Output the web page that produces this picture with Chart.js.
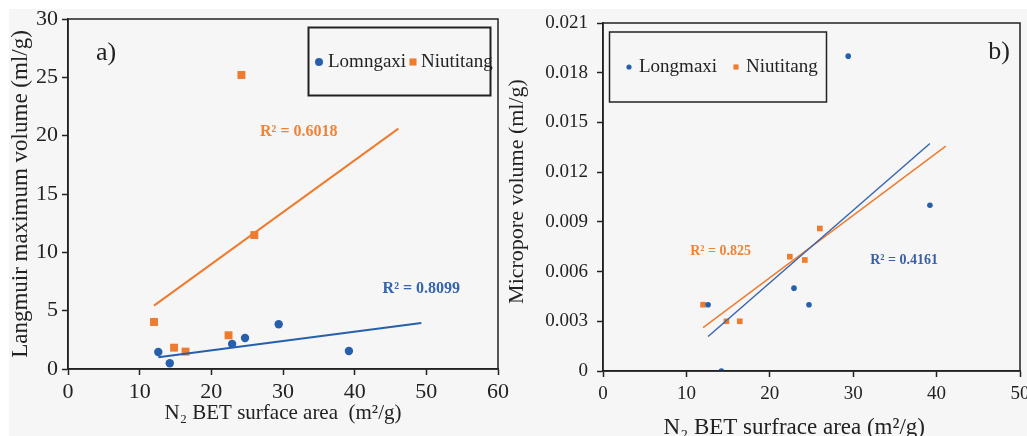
<!DOCTYPE html>
<html>
<head>
<meta charset="utf-8">
<title>BET surface area vs Langmuir and micropore volume</title>
<script src="https://cdn.jsdelivr.net/npm/chart.js@4.4.1/dist/chart.umd.min.js"></script>
<style>
  html, body { margin: 0; padding: 0; background: #fff; }
  #fig { position: relative; width: 1027px; height: 436px; overflow: hidden; }
  #bg { position: absolute; left: 9px; top: 9px; right: 0; bottom: 0; background: #f6f6f6; }
  .panel { position: absolute; top: 0; }
  #panelA { left: 0; }
  #panelB { left: 496px; }
</style>
</head>
<body>
<div id="fig">
  <div id="bg"></div>
  <canvas id="panelA" class="panel" width="510" height="436"></canvas>
  <canvas id="panelB" class="panel" width="531" height="442"></canvas>
</div>
<script>
// N2 BET surface area (m2/g) of each sample
const longmaxiBet = [12.6, 14.2, 22.9, 24.7, 29.4, 39.2];
const niutitangBet = [12.0, 14.8, 16.4, 22.4, 24.2, 26.0];

// a) Langmuir maximum volume (ml/g)
const longmaxiLangmuir = [1.46, 0.49, 2.14, 2.66, 3.83, 1.54];
const niutitangLangmuir = [4.03, 1.83, 1.49, 2.89, 25.2, 11.48];

// b) micropore volume (ml/g)
const longmaxiMicropore = [0.004, 0.0, 0.005, 0.004, 0.019, 0.010];
const niutitangMicropore = [0.004, 0.003, 0.003, 0.0069, 0.0067, 0.0086];

// linear trendlines, start and end
const longmaxiFitAX = [12.6, 49.3];
const longmaxiFitAY = [1.0, 3.95];
const niutitangFitAX = [12.0, 46.1];
const niutitangFitAY = [5.43, 20.6];
const longmaxiFitBX = [12.6, 39.2];
const longmaxiFitBY = [0.00208, 0.01373];
const niutitangFitBX = [12.0, 41.1];
const niutitangFitBY = [0.00262, 0.01357];

const r2TextA = ['R² = 0.8099', 'R² = 0.6018'];
const r2TextB = ['R² = 0.4161', 'R² = 0.825'];

// axis ticks
const betTicksA = [0, 10, 20, 30, 40, 50, 60];
const langmuirTicks = [0, 5, 10, 15, 20, 25, 30];
const betTicksB = [0, 10, 20, 30, 40, 50];
const microporeTicks = [0, 0.003, 0.006, 0.009, 0.012, 0.015, 0.018, 0.021];

const BLUE = '#2660ad';
const ORANGE = '#ef7c2e';
const INK = '#222';
const SERIF = "'Liberation Serif', 'Times New Roman', serif";

const pts = (xs, ys) => xs.map((x, i) => ({ x, y: ys[i] }));

// frame, boxed legend, R² notes and panel letter
const panelDecor = {
  id: 'panelDecor',
  afterDraw(chart, args, opts) {
    const { ctx, chartArea: a, scales } = chart;
    ctx.save();
    ctx.strokeStyle = INK;
    ctx.lineWidth = opts.frameWidth;
    ctx.strokeRect(a.left, a.top, a.right - a.left, a.bottom - a.top);

    const L = opts.legend;
    ctx.lineWidth = L.lineWidth;
    ctx.strokeRect(L.x, L.y, L.w, L.h);
    ctx.font = `${L.fontSize}px ${SERIF}`;
    ctx.textBaseline = 'middle';
    ctx.textAlign = 'left';
    L.items.forEach(it => {
      const ds = chart.data.datasets[it.dataset];
      ctx.fillStyle = ds.backgroundColor;
      Chart.helpers.drawPoint(ctx, { pointStyle: ds.pointStyle, radius: it.radius, rotation: 0, borderWidth: 0 }, it.mx, L.cy);
      ctx.fillStyle = INK;
      ctx.fillText(ds.label, it.tx, L.cy);
    });

    ctx.textAlign = 'center';
    opts.notes.forEach(n => {
      ctx.font = `bold ${n.fontSize}px ${SERIF}`;
      ctx.fillStyle = n.color;
      ctx.fillText(n.text, scales.x.getPixelForValue(n.x), scales.y.getPixelForValue(n.y));
    });

    ctx.font = `${opts.tag.fontSize}px ${SERIF}`;
    ctx.fillStyle = INK;
    ctx.fillText(opts.tag.text, opts.tag.x, opts.tag.y);
    ctx.restore();
  }
};

function axis(ticks, opt) {
  return {
    type: 'linear',
    min: ticks[0],
    max: ticks[ticks.length - 1],
    afterBuildTicks: s => { s.ticks = ticks.map(v => ({ value: v })); },
    afterFit: s => {
      if (s.isHorizontal()) { s.height = opt.size; s.paddingRight = 0; }
      else s.width = opt.size;
    },
    border: { color: INK, width: 1.5 },
    grid: { drawOnChartArea: false, tickLength: 6, color: INK, tickWidth: 1.5 },
    ticks: {
      color: INK,
      padding: opt.tickPad,
      font: { family: SERIF, size: opt.tickSize },
      callback: opt.format || (v => String(v))
    },
    title: {
      display: true,
      text: opt.title,
      color: INK,
      font: { family: SERIF, size: opt.titleSize, lineHeight: 1 },
      padding: opt.titlePad
    }
  };
}

function scatterSet(label, xs, ys, color, style, radius) {
  return {
    label, data: pts(xs, ys), backgroundColor: color, borderColor: color,
    pointStyle: style, pointRadius: radius, pointBorderWidth: 0, showLine: false
  };
}

function fitSet(xs, ys, color, width) {
  return {
    label: '', data: pts(xs, ys), showLine: true, borderColor: color,
    borderWidth: width, pointRadius: 0, backgroundColor: color
  };
}

const common = {
  responsive: false,
  animation: false,
  events: [],
  plugins: { legend: { display: false }, tooltip: { enabled: false } }
};

new Chart(document.getElementById('panelA'), {
  type: 'scatter',
  data: {
    datasets: [
      fitSet(longmaxiFitAX, longmaxiFitAY, BLUE, 2),
      fitSet(niutitangFitAX, niutitangFitAY, ORANGE, 2),
      scatterSet('Lomngaxi', longmaxiBet, longmaxiLangmuir, BLUE, 'circle', 4.2),
      scatterSet('Niutitang', niutitangBet, niutitangLangmuir, ORANGE, 'rect', 5.6)
    ]
  },
  options: {
    ...common,
    layout: { padding: { left: 0, top: 19, right: 12, bottom: 0 } },
    scales: {
      x: axis(betTicksA, { size: 67, tickSize: 22, tickPad: 4, title: 'N₂ BET surface area  (m²/g)', titleSize: 21, titlePad: { bottom: 12 } }),
      y: axis(langmuirTicks, { size: 68, tickSize: 22, tickPad: 4, title: 'Langmuir maximum volume (ml/g)', titleSize: 23, titlePad: { top: 9 } })
    },
    plugins: {
      ...common.plugins,
      panelDecor: {
        frameWidth: 1.5,
        legend: {
          x: 308.5, y: 27.5, w: 182, h: 68, lineWidth: 2, fontSize: 19, cy: 62,
          items: [
            { dataset: 2, radius: 4, mx: 319, tx: 328 },
            { dataset: 3, radius: 5, mx: 413, tx: 421 }
          ]
        },
        notes: [
          { text: r2TextA[0], x: 49.3, y: 6.86, color: '#3565b0', fontSize: 16 },
          { text: r2TextA[1], x: 32.2, y: 20.3, color: '#ec8439', fontSize: 16 }
        ],
        tag: { text: 'a)', x: 106, y: 53, fontSize: 26 }
      }
    }
  },
  plugins: [panelDecor]
});

new Chart(document.getElementById('panelB'), {
  type: 'scatter',
  data: {
    datasets: [
      fitSet(longmaxiFitBX, longmaxiFitBY, '#3a66b0', 1.5),
      fitSet(niutitangFitBX, niutitangFitBY, ORANGE, 1.5),
      scatterSet('Longmaxi', longmaxiBet, longmaxiMicropore, BLUE, 'circle', 2.8),
      scatterSet('Niutitang', niutitangBet, niutitangMicropore, ORANGE, 'rect', 4)
    ]
  },
  options: {
    ...common,
    layout: { padding: { left: 0, top: 23, right: 7, bottom: 0 } },
    scales: {
      // trailing spaces keep the title a little left of the plot centre
      x: axis(betTicksB, { size: 71, tickSize: 19, tickPad: 6, title: 'N₂ BET surfrace area (m²/g)      ', titleSize: 23, titlePad: { bottom: 3 } }),
      y: axis(microporeTicks, {
        size: 107, tickSize: 19, tickPad: 9, title: '  Micropore volume (ml/g)', titleSize: 22, titlePad: { top: 10 },
        format: v => (v === 0 ? '0' : v.toFixed(3))
      })
    },
    plugins: {
      ...common.plugins,
      panelDecor: {
        frameWidth: 1.5,
        legend: {
          x: 113.5, y: 32, w: 217, h: 70, lineWidth: 1.5, fontSize: 19, cy: 67,
          items: [
            { dataset: 2, radius: 2.6, mx: 133, tx: 143 },
            { dataset: 3, radius: 3.6, mx: 240, tx: 250 }
          ]
        },
        notes: [
          { text: r2TextB[0], x: 36.1, y: 0.00669, color: '#3a5fa5', fontSize: 14 },
          { text: r2TextB[1], x: 14.1, y: 0.00724, color: '#ec8439', fontSize: 14 }
        ],
        tag: { text: 'b)', x: 503, y: 52, fontSize: 26 }
      }
    }
  },
  plugins: [panelDecor]
});
</script>
</body>
</html>
